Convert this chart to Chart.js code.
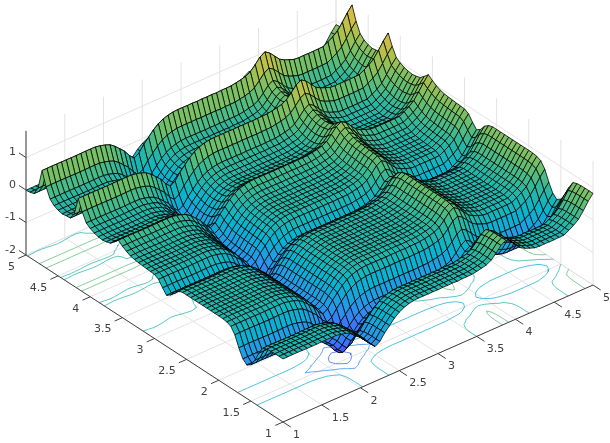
<!DOCTYPE html>
<html>
<head>
<meta charset="utf-8">
<style>
  html, body { margin: 0; padding: 0; background: #fff; }
  #chart { display: block; }
</style>
<script src="https://cdn.jsdelivr.net/npm/chart.js@4"></script>
</head>
<body>
<canvas id="chart" width="610" height="443"></canvas>
<script>
// mesh coordinates, same on both floor axes
const gridCoords = [1,1.0625,1.125,1.1875,1.25,1.3125,1.375,1.4375,1.5,1.5625,1.625,1.6875,1.75,1.8125,1.875,1.9375,2,2.0625,2.125,2.1875,2.25,2.3125,2.375,2.4375,2.5,2.5625,2.625,2.6875,2.75,2.8125,2.875,2.9375,3,3.0625,3.125,3.1875,3.25,3.3125,3.375,3.4375,3.5,3.5625,3.625,3.6875,3.75,3.8125,3.875,3.9375,4,4.0625,4.125,4.1875,4.25,4.3125,4.375,4.4375,4.5,4.5625,4.625,4.6875,4.75,4.8125,4.875,4.9375,5];

// surface reads as two profiles added together: one along each floor axis
const heightAlongU = [0,0.002,0.004,0.003,0.001,-0.002,-0.004,-0.003,0,0.003,0.004,0,-0.03,-0.07,-0.13,-0.24,-0.38,-0.52,-0.72,-0.87,-0.78,-0.58,-0.42,-0.26,-0.14,-0.06,-0.01,0.02,0.03,0.03,0.025,0.03,0.02,0.03,0.025,0.03,0.02,0.03,0.03,0.035,0.06,0.09,0.13,0.21,0.36,0.53,0.62,0.52,0.36,0.2,0.11,0.05,-0.005,-0.02,-0.015,-0.02,-0.02,-0.015,-0.01,0.07,0.16,0.28,0.48,0.7,0.88];
const heightAlongV = [-0.06,-0.06,-0.06,-0.065,-0.08,-0.13,-0.36,-0.66,-0.88,-0.97,-0.86,-0.6,-0.28,-0.1,-0.045,-0.025,-0.02,-0.02,-0.02,-0.02,-0.02,-0.02,-0.02,-0.02,-0.02,-0.02,-0.06,-0.16,-0.34,-0.43,-0.28,-0.1,-0.03,-0.02,-0.012,0.002,0.012,0.03,0.06,0.12,0.2,0.3,0.17,0.05,0.012,-0.012,0.004,0.04,0.1,0.19,0.45,0.78,0.22,0.02,0.012,-0.012,0.02,0.08,0.2,0.5,0.92,0.3,0.05,0.012,-0.008];

const uTicks = [1,1.5,2,2.5,3,3.5,4,4.5,5];
const vTicks = [1,1.5,2,2.5,3,3.5,4,4.5,5];
const zTicks = [-2,-1,0,1];
const contourLevels = [-1.5,-1,-0.5,0,0.5,1,1.5];

const zFloor = -2, zTop = 1.82;
const colorMin = -2.35, colorMax = 2.6;

// parula
const parula = [[.2422,.1504,.6603],[.2803,.2782,.9221],[.244,.4358,.9988],[.154,.5902,.9218],[.0297,.7082,.8163],[.17,.72,.62],[.42,.75,.42],[.68,.76,.3],[.88,.73,.25],[.99,.76,.2],[.98,.98,.08]];

function parulaColor(z) {
  let t = (z - colorMin) / (colorMax - colorMin);
  t = Math.max(0, Math.min(0.9999, t)) * (parula.length - 1);
  const i = Math.floor(t), f = t - i;
  const c = parula[i].map((v, k) => Math.round(255 * (v + (parula[i + 1][k] - v) * f)));
  return 'rgb(' + c.join(',') + ')';
}

// orthographic view of the box, gives x/y in the chart's scale units
function project(u, v, z) {
  return {
    x: 283 + (u - 1) * 77.5 - (v - 1) * 64.25,
    y: 422 - (u - 1) * 34.25 - (v - 1) * 41.75 - (z - zFloor) * 32.5
  };
}

function heightAt(i, j) {
  return heightAlongU[i] + heightAlongV[j];
}

function lineSet(points, color, width) {
  return {
    type: 'line',
    data: points,
    borderColor: color,
    borderWidth: width,
    pointRadius: 0,
    tension: 0,
    fill: false,
    spanGaps: false
  };
}

function surfaceSets() {
  const sets = [];
  const n = gridCoords.length;
  // front quads first, chart.js paints the first dataset last
  for (let i = 0; i < n - 1; i++) {
    for (let j = 0; j < n - 1; j++) {
      const pts = [
        project(gridCoords[i], gridCoords[j], heightAt(i, j)),
        project(gridCoords[i + 1], gridCoords[j], heightAt(i + 1, j)),
        project(gridCoords[i + 1], gridCoords[j + 1], heightAt(i + 1, j + 1)),
        project(gridCoords[i], gridCoords[j + 1], heightAt(i, j + 1))
      ];
      pts.push(pts[0]);
      const set = lineSet(pts, 'rgba(0,0,0,0.9)', 0.85);
      set.fill = 'shape';
      set.backgroundColor = parulaColor((heightAt(i, j) + heightAt(i + 1, j) + heightAt(i + 1, j + 1) + heightAt(i, j + 1)) / 4);
      sets.push(set);
    }
  }
  return sets;
}

// marching squares over the same grid, drawn on the floor
function contourSets() {
  const sets = [];
  const n = gridCoords.length;
  contourLevels.forEach(level => {
    const pts = [];
    const cross = (i1, j1, i2, j2) => {
      const a = heightAt(i1, j1), b = heightAt(i2, j2);
      const f = (level - a) / (b - a);
      return project(gridCoords[i1] + (gridCoords[i2] - gridCoords[i1]) * f,
                     gridCoords[j1] + (gridCoords[j2] - gridCoords[j1]) * f, zFloor);
    };
    for (let i = 0; i < n - 1; i++) {
      for (let j = 0; j < n - 1; j++) {
        const hits = [];
        if ((heightAt(i, j) < level) !== (heightAt(i + 1, j) < level)) hits.push(cross(i, j, i + 1, j));
        if ((heightAt(i + 1, j) < level) !== (heightAt(i + 1, j + 1) < level)) hits.push(cross(i + 1, j, i + 1, j + 1));
        if ((heightAt(i, j + 1) < level) !== (heightAt(i + 1, j + 1) < level)) hits.push(cross(i, j + 1, i + 1, j + 1));
        if ((heightAt(i, j) < level) !== (heightAt(i, j + 1) < level)) hits.push(cross(i, j, i, j + 1));
        for (let h = 0; h + 1 < hits.length; h += 2) {
          pts.push(hits[h], hits[h + 1], { x: NaN, y: NaN });
        }
      }
    }
    const color = parulaColor(level).replace('rgb', 'rgba').replace(')', ',0.75)');
    if (pts.length) sets.push(lineSet(pts, color, 1));
  });
  return sets;
}

function gridSets() {
  const sets = [];
  const color = '#e3e3e3';
  uTicks.forEach(u => {
    sets.push(lineSet([project(u, 1, zFloor), project(u, 5, zFloor), project(u, 5, zTop)], color, 1));
  });
  vTicks.forEach(v => {
    sets.push(lineSet([project(1, v, zFloor), project(5, v, zFloor), project(5, v, zTop)], color, 1));
  });
  zTicks.forEach(z => {
    sets.push(lineSet([project(1, 5, z), project(5, 5, z), project(5, 1, z)], color, 1));
  });
  return sets;
}

function axisSets() {
  const dark = '#404040';
  const sets = [
    lineSet([project(1, 5, zFloor), project(1, 1, zFloor), project(5, 1, zFloor)], dark, 1),
    lineSet([project(1, 5, zFloor), project(1, 5, zTop)], dark, 1)
  ];
  vTicks.forEach(v => {
    sets.push(lineSet([project(1, v, zFloor), project(0.9, v, zFloor)], dark, 1));
  });
  uTicks.forEach(u => {
    sets.push(lineSet([project(u, 1, zFloor), project(u, 0.88, zFloor)], dark, 1));
  });
  zTicks.forEach(z => {
    sets.push(lineSet([project(1, 5, z), project(1, 5.11, z)], dark, 1));
  });
  return sets;
}

const tickLabels = {
  id: 'tickLabels',
  afterDraw(chart) {
    const { ctx, scales } = chart;
    const px = p => ({ x: scales.x.getPixelForValue(p.x), y: scales.y.getPixelForValue(p.y) });
    ctx.save();
    ctx.fillStyle = '#404040';
    ctx.font = '11px "DejaVu Sans"';
    ctx.textBaseline = 'middle';
    ctx.textAlign = 'right';
    vTicks.forEach(v => {
      const p = px(project(1, v, zFloor));
      ctx.fillText(String(v), p.x - 11, p.y + 12);
    });
    zTicks.forEach(z => {
      const p = px(project(1, 5, z));
      ctx.fillText(String(z), p.x - 10, p.y - 5);
    });
    ctx.textAlign = 'left';
    uTicks.forEach(u => {
      const p = px(project(u, 1, zFloor));
      ctx.fillText(String(u), p.x + 10, p.y + 13);
    });
    ctx.restore();
  }
};

new Chart(document.getElementById('chart'), {
  type: 'line',
  data: { datasets: [...axisSets(), ...surfaceSets(), ...contourSets(), ...gridSets()] },
  options: {
    responsive: false,
    animation: false,
    events: [],
    layout: { padding: 0 },
    scales: {
      x: { type: 'linear', min: 0, max: 610, display: false },
      y: { type: 'linear', min: 0, max: 443, reverse: true, display: false }
    },
    plugins: { legend: { display: false }, tooltip: { enabled: false }, title: { display: false } }
  },
  plugins: [tickLabels]
});
</script>
</body>
</html>
